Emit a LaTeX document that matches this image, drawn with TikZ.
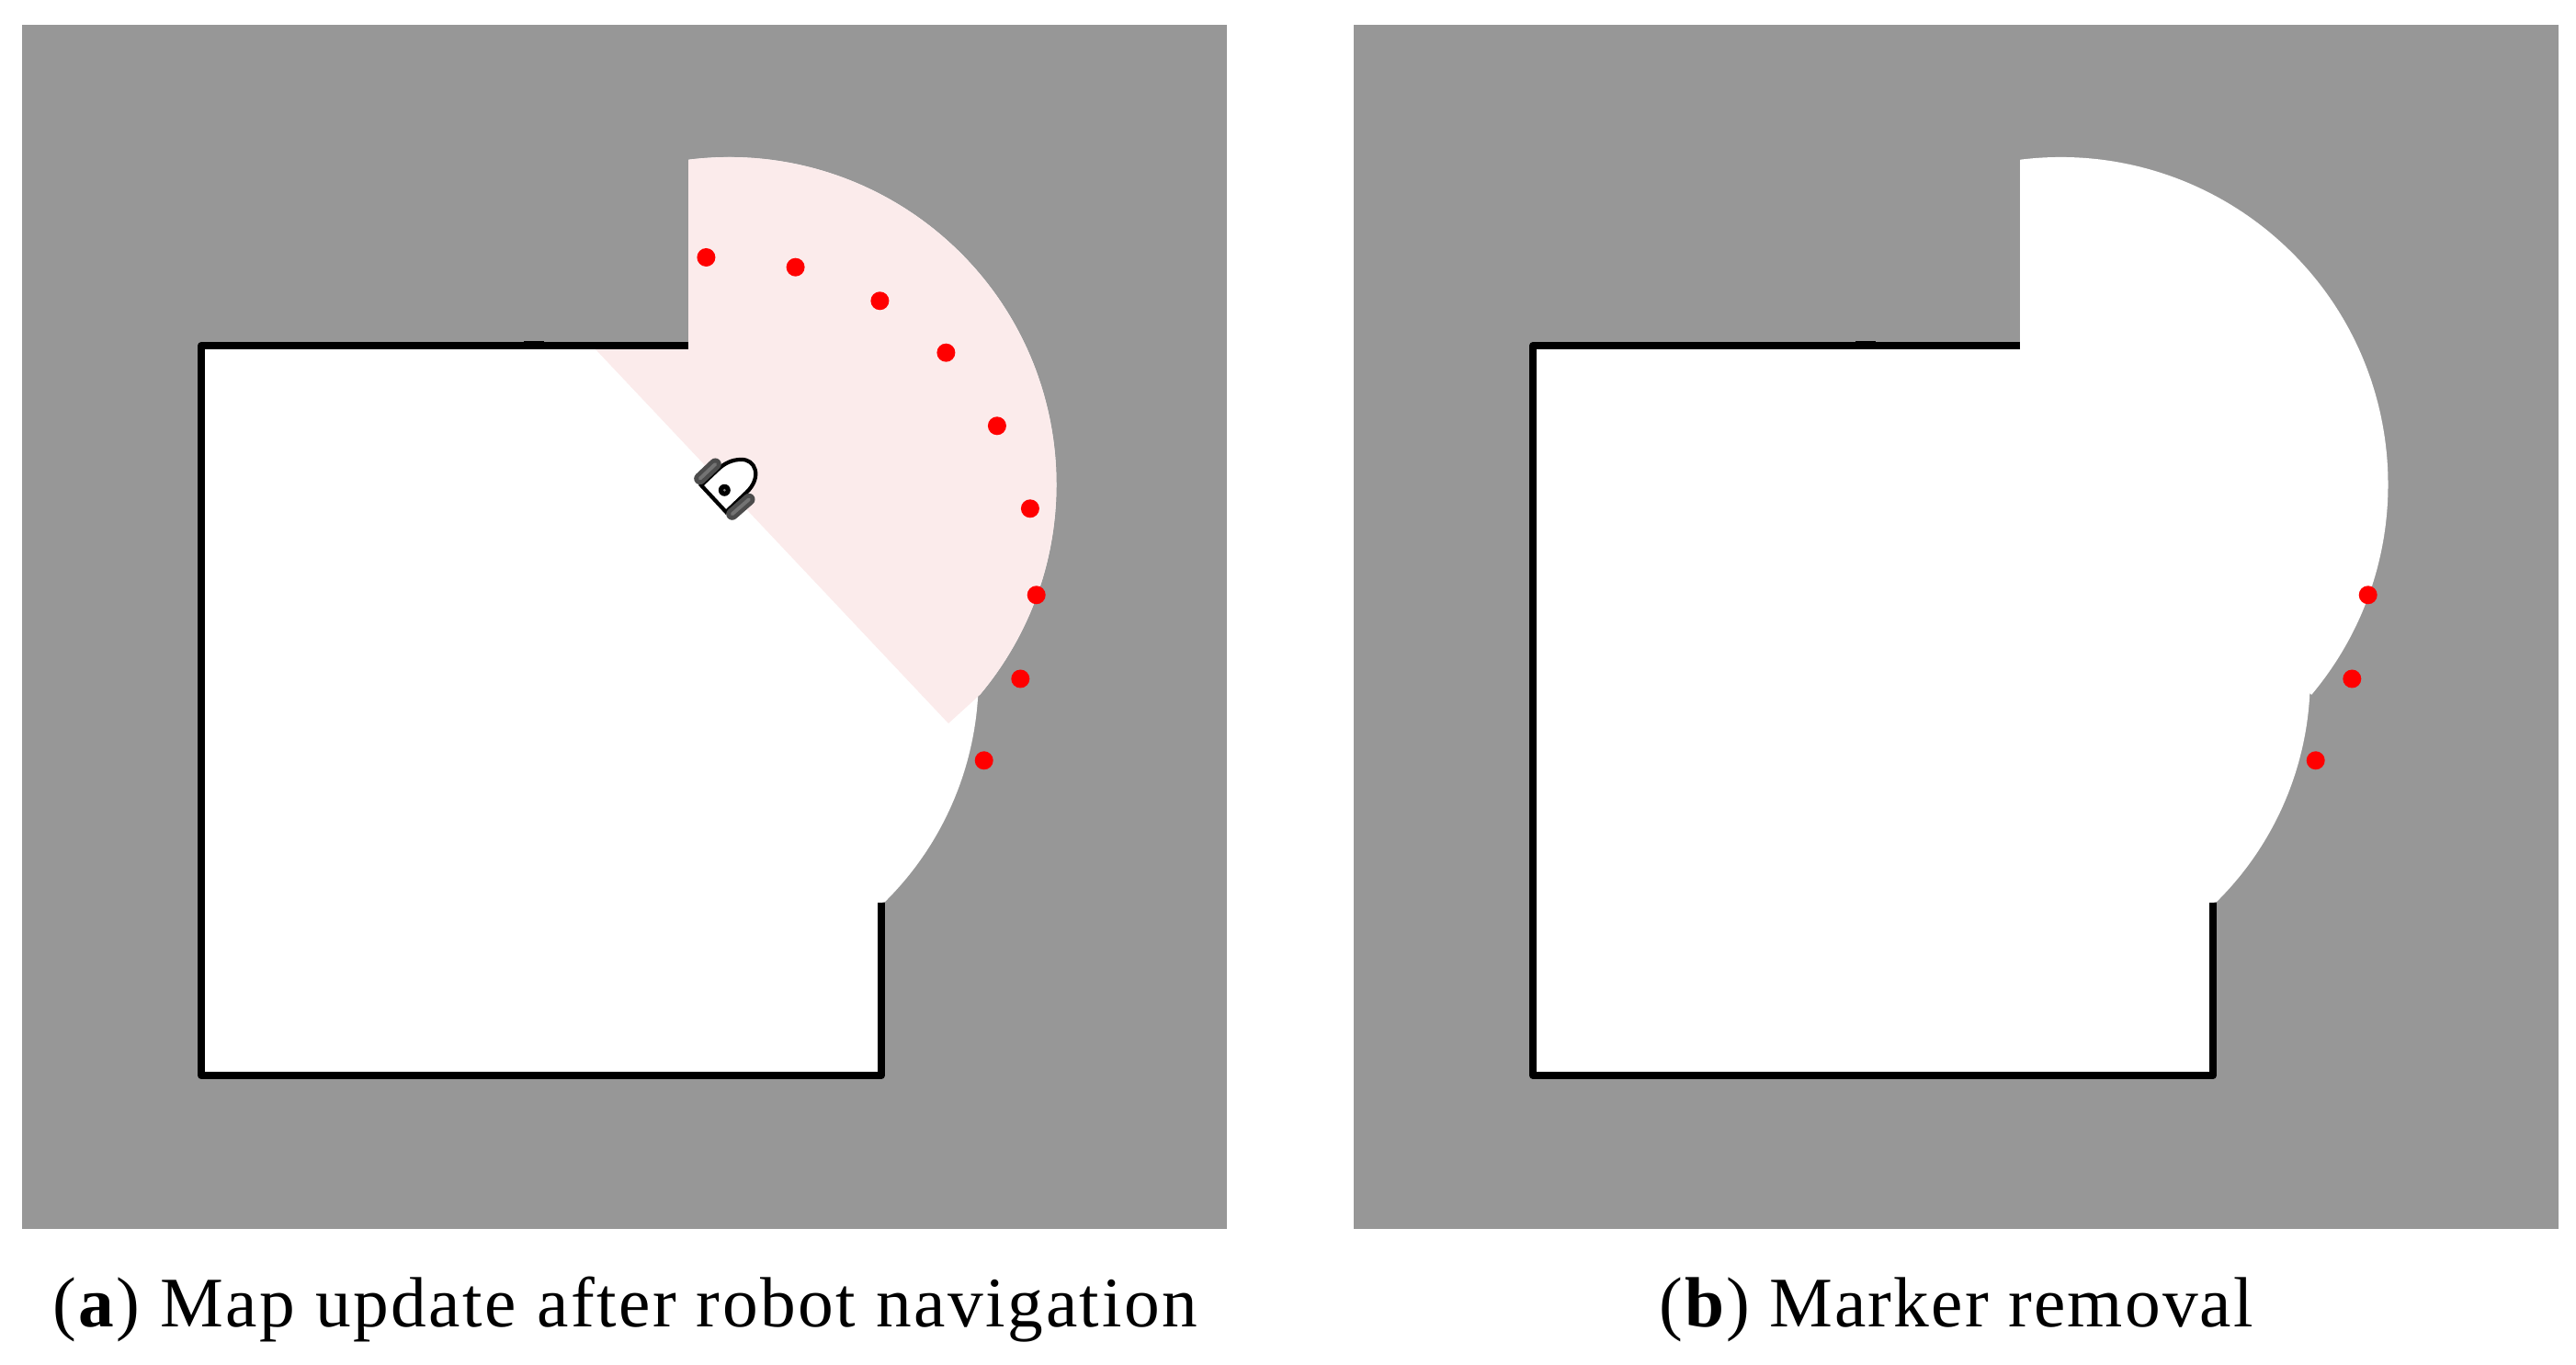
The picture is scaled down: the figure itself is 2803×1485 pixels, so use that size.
\documentclass[tikz,border=0pt]{standalone}
\usepackage{fontspec}
\setmainfont[LetterSpace=2.8]{Liberation Serif}
\newfontfamily\widefont[LetterSpace=3.3]{Liberation Serif}
\definecolor{mapgray}{RGB}{151,151,151}
\definecolor{scanpink}{RGB}{251,235,235}
\tikzset{
  wall/.style={line width=2.25pt,line join=round},
  marker/.style={fill=red},
  caption/.style={anchor=base,font=\fontsize{22}{26}\selectfont,inner sep=0pt},
  wheel/.style={line width=3.7pt,line cap=round,draw=black!70},
  wheelin/.style={line width=1.1pt,line cap=round,draw=black!55}
}
% free space of the map, seen by both panels
\newcommand{\freespace}{(219,1109) -- (219,315) -- (959,315) -- (959,503) -- (963,504)
  arc[start angle=-45.3,end angle=-2.8,radius=343] -- (1066.2,729.2)
  arc[start angle=-40,end angle=97,radius=356] -- (749,1311) -- (749,1109) -- cycle}
\begin{document}
\begin{tikzpicture}[x=0.01cm,y=0.01cm]
  \useasboundingbox (0,0) rectangle (2803,1485);
  \foreach \dx in {0,1449} {
    \begin{scope}[xshift=\dx*0.01cm]
      \fill[mapgray] (23.5,148) rectangle (1335,1458);
      \fill[white] \freespace;
    \end{scope}
  }
  % scan sector
  \fill[scanpink] (648,1105) -- (749,1105) -- (749,1311) -- (750.1,1311.3)
    arc[start angle=97,end angle=-40,radius=356] -- (1032,698) -- cycle;
  \foreach \dx in {0,1449} {
    \begin{scope}[xshift=\dx*0.01cm]
      \draw[wall] (749,1109) -- (219,1109) -- (219,315) -- (959,315) -- (959,503);
      \fill (570,1109) rectangle (592,1114);
      \foreach \x/\y in {1127.7/837.7,1110.3/746.5,1070.7/657.7}
      \fill[marker] (\x,\y) circle (10);
    \end{scope}
  }
  \foreach \x/\y in {768.4/1205,865.6/1194.3,957.4/1157.7,1029.4/1101.3,1084.9/1021.7,1120.9/931.7}
  \fill[marker] (\x,\y) circle (10);
  % robot
  \draw[fill=white,line width=1.2pt] (763,957) -- (790,928) -- (812,949)
    .. controls (830,966) and (822,986) .. (806,985)
    .. controls (797,985) and (788,981) .. (781,974) -- cycle;
  \draw[wheel] (761.7,964.3) -- (778.3,980);
  \draw[wheel] (796.7,925.7) -- (815,941.7);
  \draw[wheelin] (761.7,964.3) -- (778.3,980);
  \draw[wheelin] (796.7,925.7) -- (815,941.7);
  \fill (788.3,951.7) circle (6.5);
  \fill[black!50] (788.3,951.7) circle (1.5);
  \node[caption] (capa) at (680,41) {\widefont (\textbf{a}) Map update after robot navigation};
  \node[caption] (capb) at (2128.5,41) {(\textbf{b}) Marker removal};
\end{tikzpicture}
\end{document}
